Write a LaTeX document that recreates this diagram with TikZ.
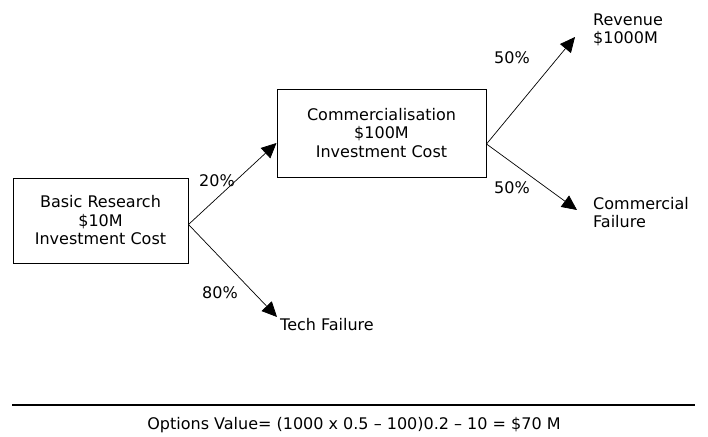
\documentclass[tikz,border=0pt]{standalone}
\usepackage{fontspec}
\setmainfont{DejaVu Sans}
\usetikzlibrary{arrows.meta,positioning}
\tikzset{
    stage/.style={draw, line width=1pt, align=center, font=\fontsize{16}{18.5}\selectfont},
    branch/.style={line width=0.7pt, -{Triangle[length=15pt,width=14pt]}},
    prob/.style={font=\fontsize{16}{18.5}\selectfont},
    outcome/.style={align=left, inner sep=0pt, font=\fontsize{16}{18}\selectfont},
}

\begin{document}
\begin{tikzpicture}[x=1pt,y=-1pt]
        \useasboundingbox (0,0) rectangle (708,436);
        \node[stage, minimum width=175pt, minimum height=85pt] (basic) at (100.5,220.5) {Basic Research\\\$10M\\Investment Cost};
        \node[stage, minimum width=209pt, minimum height=88pt] (comm) at (381.5,133) {Commercialisation\\\$100M\\Investment Cost};
        % arrow tips
        \coordinate (techtip) at (277,317);
        \coordinate (revtip) at (575,37);
        \coordinate (failtip) at (577,210);
        \node[outcome, anchor=west] (tech) at (280,325) {Tech Failure};
        \node[outcome, anchor=west] (revenue) at (593,30) {Revenue\\\$1000M};
        \node[outcome, anchor=west] (commfail) at (593,213) {Commercial\\Failure};
        \draw[branch] ([yshift=-4pt]basic.east) -- (comm.west |- 0,143);
        \draw[branch] ([yshift=-4pt]basic.east) -- (techtip);
        \draw[branch] ([yshift=-11pt]comm.east) -- (revtip);
        \draw[branch] ([yshift=-11pt]comm.east) -- (failtip);
        \node[prob] (p20) at (217,181) {20\%};
        \node[prob] (p80) at (220,293) {80\%};
        \node[prob] (p50a) at (512,58) {50\%};
        \node[prob] (p50b) at (512,188) {50\%};
        \draw[line width=1.1pt] (12,405) -- (695,405);
        \node[prob] (value) at (354,425) {Options Value= (1000 x 0.5 -- 100)0.2 -- 10 = \$70 M};
    \end{tikzpicture}
\end{document}
